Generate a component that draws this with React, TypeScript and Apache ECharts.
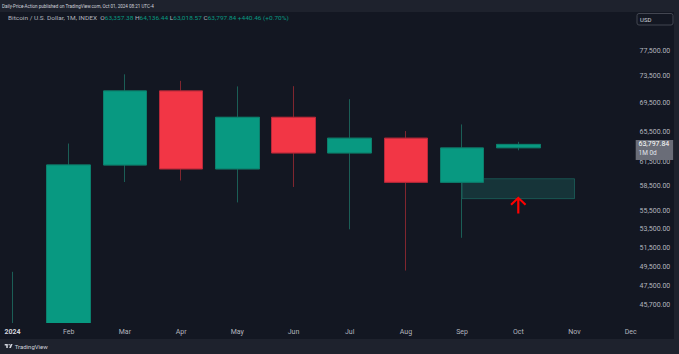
import React, { useEffect, useRef } from 'react';
import * as echarts from 'echarts';

// ---- data ----
const months = ['2024', 'Feb', 'Mar', 'Apr', 'May', 'Jun', 'Jul', 'Aug', 'Sep', 'Oct', 'Nov', 'Dec'];
const opens = [42280, 42582, 61130, 71289, 60636, 67491, 62678, 64626, 58973, 63357.38];
const closes = [42582, 61130, 71289, 60636, 67491, 62678, 64626, 58973, 63327, 63797.84];
const lows = [38555, 41884, 59005, 59191, 56555, 58402, 53485, 49100, 52550, 63018.57];
const highs = [48969, 63913, 73794, 72797, 71963, 71997, 70079, 65593, 66498, 64136.44];
const priceTicks = [77500, 73500, 69500, 65500, 61500, 58500, 55500, 53500, 51500, 49500, 47500, 45700];
const priceRange = [44029, 83986];
const zoneMonths = ['Sep', 'Nov'];
const zonePrices = [59410, 57000];
const arrowPoint = ['Oct', 56260];

const headerText = 'Daily-Price-Action published on TradingView.com, Oct 01, 2024 08:21 UTC-4';
const symbolText = 'Bitcoin / U.S. Dollar, 1M, INDEX';
const lastBarText = ['63,357.38', '64,136.44', '63,018.57', '63,797.84', '+440.46 (+0.70%)'];

const FONT = 'Roboto, "Noto Sans", sans-serif';
const BULL = '#089981';
const BEAR = '#f23645';

echarts.graphic.registerShape(
  'tvlogo',
  echarts.graphic.extendPath(
    'M14 22H7V11H0V4h14v18zM28 22h-8l7.5-18h8L28 22zM16.5 7.5a3.5 3.5 0 1 0 7 0a3.5 3.5 0 1 0 -7 0z',
    {}
  )
);

const fmtPrice = (v: number) =>
  (Math.round(v * 100) / 100).toLocaleString('en-US', { minimumFractionDigits: 2, maximumFractionDigits: 2 });

export default function App() {
  const ref = useRef<HTMLDivElement>(null);

  useEffect(() => {
    const chart = echarts.init(ref.current!, null, { renderer: 'svg' });
    const ohlc = opens.map((o, i) => [o, closes[i], lows[i], highs[i]]);
    const bodies = opens.map((o, i) => [o, closes[i], Math.min(o, closes[i]), Math.max(o, closes[i])]);

    chart.setOption({
      animation: false,
      backgroundColor: '#1e222d',
      textStyle: { fontFamily: FONT },
      grid: { left: 12.5, right: 48.3, top: 12, bottom: 31 },
      xAxis: {
        type: 'category',
        data: months,
        boundaryGap: false,
        z: 10,
        axisLine: { show: false },
        axisTick: { show: false },
        splitLine: { show: false },
        axisLabel: {
          interval: 0,
          margin: 5,
          color: '#b2b5be',
          fontSize: 7,
          fontFamily: FONT,
          formatter: (v: string) => (v === months[0] ? `{y|${v}}` : v),
          rich: { y: { fontWeight: 'bold', color: '#d1d4dc', fontSize: 7, fontFamily: FONT } },
        },
      },
      yAxis: {
        type: 'log',
        position: 'right',
        min: priceRange[0],
        max: priceRange[1],
        axisLine: { show: false },
        axisTick: { show: false },
        splitLine: { show: false },
        axisLabel: {
          customValues: priceTicks,
          align: 'right',
          margin: 39.6,
          color: '#b2b5be',
          fontSize: 7,
          fontFamily: FONT,
          formatter: (v: number) => fmtPrice(v),
        },
      },
      series: [
        {
          name: 'wicks',
          type: 'candlestick',
          data: ohlc,
          barWidth: '78.5%',
          clip: true,
          silent: true,
          itemStyle: {
            color: 'transparent',
            color0: 'transparent',
            borderColor: '#1b5e56',
            borderColor0: '#80262f',
            borderWidth: 1,
          },
        },
        {
          name: 'bodies',
          type: 'candlestick',
          data: bodies,
          barWidth: '78.5%',
          clip: true,
          silent: true,
          itemStyle: {
            color: BULL,
            color0: BEAR,
            borderColor: '#0b7f6c',
            borderColor0: '#b8293a',
            borderWidth: 1,
          },
          markArea: {
            silent: true,
            itemStyle: {
              color: 'rgba(34,171,148,0.2)',
              borderColor: 'rgba(34,171,148,0.35)',
              borderWidth: 1,
            },
            data: [[{ coord: [zoneMonths[0], zonePrices[0]] }, { coord: [zoneMonths[1], zonePrices[1]] }]],
          },
          markPoint: {
            silent: true,
            symbol: 'path://M8 0L16 7.5L14.5 9L9.1 3.8L9.1 17L6.9 17L6.9 3.8L1.5 9L0 7.5Z',
            symbolSize: [16, 17],
            itemStyle: { color: '#ff0000' },
            label: { show: false },
            data: [{ coord: arrowPoint }],
          },
        },
      ],
      graphic: [
        { id: 'panel', type: 'rect', z: -10, shape: { x: 0, y: 12, width: 674, height: 327 }, style: { fill: '#131722' } },
        // masks hiding candle parts that run below the price pane
        { id: 'timerow', type: 'rect', z: 5, shape: { x: 0, y: 323, width: 674, height: 16 }, style: { fill: '#131722' } },
        { id: 'footer', type: 'rect', z: 5, shape: { x: 0, y: 339, width: 679, height: 15 }, style: { fill: '#1e222d' } },
        {
          id: 'hdr',
          type: 'text',
          x: 2,
          y: 5.5,
          scaleX: 0.455,
          scaleY: 0.55,
          style: { text: headerText, fill: '#d1d4dc', font: `10px ${FONT}`, verticalAlign: 'middle' },
        },
        {
          id: 'sym',
          type: 'text',
          x: 8,
          y: 17.3,
          scaleX: 0.65,
          scaleY: 0.55,
          style: {
            text:
              `{g|${symbolText}}  {g|O}{v|${lastBarText[0]}} {g|H}{v|${lastBarText[1]}} ` +
              `{g|L}{v|${lastBarText[2]}} {g|C}{v|${lastBarText[3]}} {v|${lastBarText[4]}}`,
            verticalAlign: 'middle',
            font: `10px ${FONT}`,
            rich: {
              g: { fill: '#b2b5be', font: `10px ${FONT}` },
              v: { fill: BULL, font: `10px ${FONT}` },
            },
          },
        },
        {
          id: 'usdbox',
          type: 'rect',
          z: 100,
          shape: { x: 637, y: 13.5, width: 36, height: 11.5, r: 2 },
          style: { fill: '#131722', stroke: '#434651', lineWidth: 1 },
        },
        {
          id: 'usd',
          type: 'text',
          z: 101,
          x: 640,
          y: 19.3,
          style: { text: 'USD', fill: '#d1d4dc', font: `6px ${FONT}`, verticalAlign: 'middle' },
        },
        {
          id: 'logo',
          type: 'tvlogo',
          z: 20,
          x: 4.7,
          y: 343.1,
          scaleX: 0.222,
          scaleY: 0.222,
          style: { fill: '#d1d4dc' },
        },
        {
          id: 'tvtext',
          type: 'text',
          z: 20,
          x: 14.7,
          y: 346.3,
          style: { text: 'TradingView', fill: '#d1d4dc', font: `6px ${FONT}`, verticalAlign: 'middle' },
        },
      ],
    });

    const lastClose = closes[closes.length - 1];
    const py = chart.convertToPixel({ yAxisIndex: 0 }, lastClose) as number;
    chart.setOption({
      graphic: [
        {
          id: 'pbox',
          type: 'rect',
          z: 100,
          shape: { x: 635.7, y: py - 4.4, width: 37.5, height: 20 },
          style: { fill: '#6a6d78' },
        },
        {
          id: 'ptext',
          type: 'text',
          z: 101,
          x: 638.5,
          y: py - 0.3,
          style: { text: fmtPrice(lastClose), fill: '#ffffff', font: `7px ${FONT}`, verticalAlign: 'middle' },
        },
        {
          id: 'pcount',
          type: 'text',
          z: 101,
          x: 638.5,
          y: py + 9,
          style: { text: '1M 0d', fill: '#e0e3eb', font: `6.5px ${FONT}`, verticalAlign: 'middle' },
        },
      ],
    });

    return () => chart.dispose();
  }, []);

  return <div ref={ref} style={{ position: 'fixed', left: 0, top: 0, width: 679, height: 354 }} />;
}
